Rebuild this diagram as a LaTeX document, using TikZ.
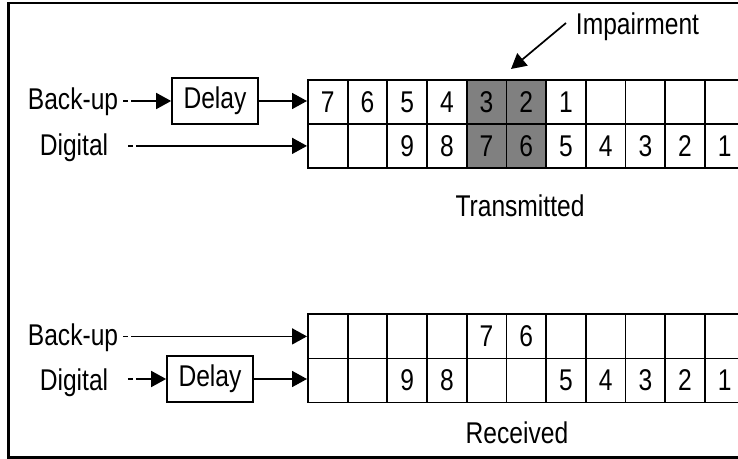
\documentclass[tikz,border=0pt]{standalone}
\usepackage{fontspec}
\setmainfont{Liberation Sans}[FakeStretch=0.82]
\usetikzlibrary{arrows.meta}
\definecolor{impgray}{RGB}{128,128,128}
\begin{document}
\begin{tikzpicture}[x=1bp,y=-1bp,
  txt/.style={font=\fontsize{30bp}{36bp}\selectfont},
  lbl/.style={txt, inner sep=0pt, anchor=base},
  cell/.style={txt, draw, line width=1.8bp, minimum width=39.7bp, minimum height=44bp, inner sep=0pt, anchor=north west},
  hit/.style={fill=impgray},
  delaybox/.style={txt, draw, line width=1.7bp, minimum width=86bp, minimum height=46bp, inner sep=0pt},
  conn/.style={line width=1.7bp, -{Triangle[length=15bp,width=16bp]}},
  dconn/.style={conn, dash pattern=on 5bp off 3bp on 1000bp}]
\useasboundingbox (0,0) rectangle (738,459);
\clip (0,0) rectangle (738,459);
\draw[line width=2.2bp] (8.5,3) rectangle (760,457.5);

% Transmitted grid
\foreach \v [count=\i] in {7,6,5,4,3,2,1,{},{},{},{}}{
  \pgfmathsetmacro{\xx}{307+39.7*(\i-1)}
  \ifnum\i=5 \def\st{hit}\else\ifnum\i=6 \def\st{hit}\else\def\st{}\fi\fi
  \node[cell,\st] (ta\i) at (\xx,79) {\v};
}
\foreach \v [count=\i] in {{},{},9,8,7,6,5,4,3,2,1}{
  \pgfmathsetmacro{\xx}{307+39.7*(\i-1)}
  \ifnum\i=5 \def\st{hit}\else\ifnum\i=6 \def\st{hit}\else\def\st{}\fi\fi
  \node[cell,\st] (tb\i) at (\xx,123) {\v};
}
% Received grid
\foreach \v [count=\i] in {{},{},{},{},7,6,{},{},{},{},{}}{
  \pgfmathsetmacro{\xx}{307+39.7*(\i-1)}
  \node[cell] (ra\i) at (\xx,313.5) {\v};
}
\foreach \v [count=\i] in {{},{},9,8,{},{},5,4,3,2,1}{
  \pgfmathsetmacro{\xx}{307+39.7*(\i-1)}
  \node[cell] (rb\i) at (\xx,357.5) {\v};
}

% labels
\node[lbl] (bu1) at (73,110) {Back-up};
\node[lbl] (dg1) at (74,155.5) {Digital};
\node[lbl] (bu2) at (73,346) {Back-up};
\node[lbl] (dg2) at (74,390.5) {Digital};
\node[lbl] (imp) at (637.5,35) {Impairment};
\node[lbl] (tx) at (520,217) {Transmitted};
\node[lbl] (rx) at (517,443) {Received};

% delay boxes
\node[delaybox] (d1) at (215,101) {Delay};
\node[delaybox] (d2) at (210,379) {Delay};

% connectors
\draw[dconn] ([xshift=5bp]d1.west -| bu1.east) -- (d1.west);
\draw[conn] (d1.east) -- (d1.east -| ta1.west);
\draw[dconn] ([xshift=20bp]tb1.west -| dg1.east) -- (tb1.west);
\draw[dconn] ([xshift=5bp]ra1.west -| bu2.east) -- (ra1.west);
\draw[dconn] ([xshift=19.5bp]d2.west -| dg2.east) -- (d2.west);
\draw[conn] (d2.east) -- (d2.east -| rb1.west);

\coordinate (impfrom) at (566,23);
\coordinate (impto) at (511,69);
\draw[conn] (impfrom) -- (impto);
\end{tikzpicture}
\end{document}
